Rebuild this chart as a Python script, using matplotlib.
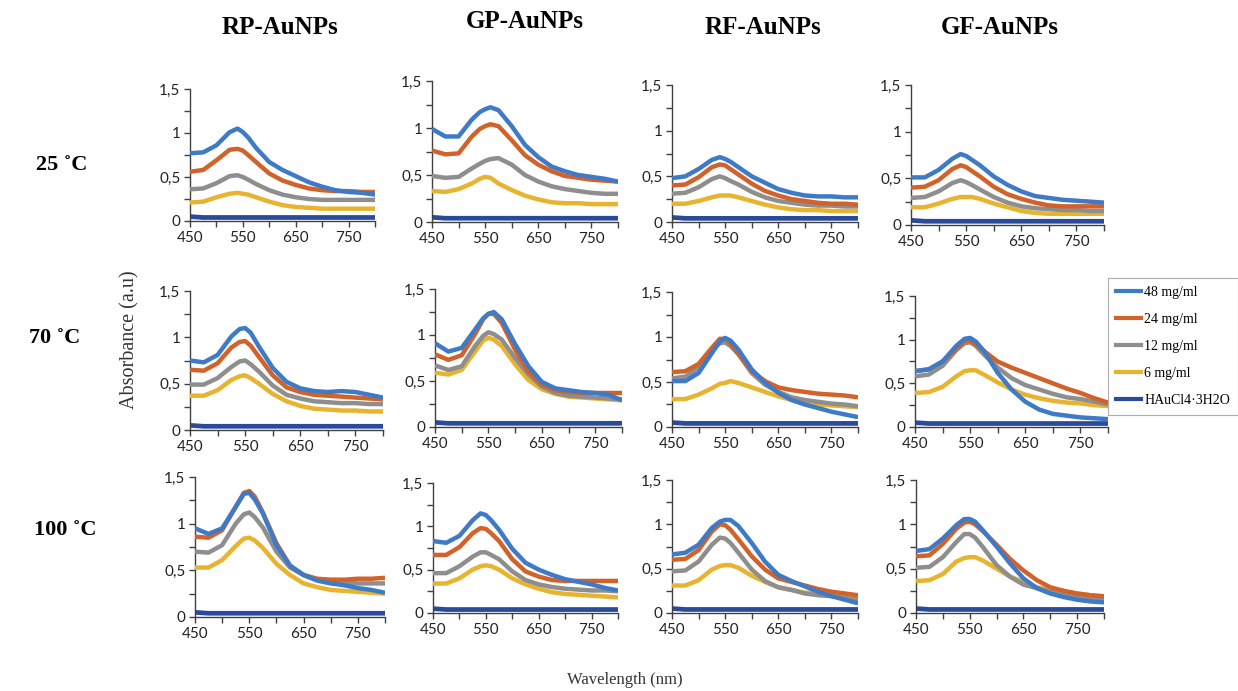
import matplotlib
matplotlib.use("Agg")
import matplotlib.pyplot as plt
from matplotlib.lines import Line2D

# wavelengths sampled (nm)
wl = [450, 475, 500, 525, 540, 550, 560, 575, 600, 625, 650, 675, 700, 725, 750, 775, 800]

series = ["48 mg/ml", "24 mg/ml", "12 mg/ml", "6 mg/ml", "HAuCl4·3H2O"]
colors = ["#3f7ac6", "#d2622a", "#8e8e8e", "#e8b430", "#2a4a9a"]

columns = ["RP-AuNPs", "GP-AuNPs", "RF-AuNPs", "GF-AuNPs"]
temps = ["25 ˚C", "70 ˚C", "100 ˚C"]

hau = [0.05, 0.04, 0.04, 0.04, 0.04, 0.04, 0.04, 0.04, 0.04, 0.04, 0.04, 0.04, 0.04, 0.04, 0.04, 0.04, 0.04]

# 25 C
rp_25 = [
    [0.77, 0.78, 0.86, 1.01, 1.05, 1.01, 0.95, 0.83, 0.67, 0.58, 0.51, 0.44, 0.39, 0.35, 0.33, 0.32, 0.30],
    [0.56, 0.58, 0.69, 0.81, 0.82, 0.80, 0.75, 0.67, 0.54, 0.46, 0.41, 0.37, 0.35, 0.34, 0.34, 0.33, 0.33],
    [0.36, 0.37, 0.43, 0.51, 0.52, 0.50, 0.47, 0.42, 0.35, 0.30, 0.27, 0.25, 0.24, 0.24, 0.24, 0.24, 0.24],
    [0.21, 0.22, 0.27, 0.31, 0.32, 0.31, 0.30, 0.27, 0.22, 0.18, 0.16, 0.15, 0.14, 0.14, 0.14, 0.14, 0.14],
]
gp_25 = [
    [0.99, 0.91, 0.91, 1.09, 1.17, 1.20, 1.22, 1.19, 1.02, 0.82, 0.69, 0.59, 0.54, 0.50, 0.48, 0.46, 0.43],
    [0.76, 0.72, 0.73, 0.91, 0.99, 1.02, 1.04, 1.02, 0.87, 0.71, 0.61, 0.54, 0.49, 0.47, 0.45, 0.44, 0.43],
    [0.49, 0.47, 0.48, 0.57, 0.62, 0.65, 0.67, 0.68, 0.61, 0.50, 0.43, 0.38, 0.35, 0.33, 0.31, 0.30, 0.30],
    [0.33, 0.32, 0.35, 0.41, 0.46, 0.48, 0.47, 0.41, 0.34, 0.28, 0.24, 0.21, 0.20, 0.20, 0.19, 0.19, 0.19],
]
rf_25 = [
    [0.48, 0.50, 0.58, 0.68, 0.71, 0.69, 0.66, 0.60, 0.50, 0.43, 0.36, 0.32, 0.29, 0.28, 0.28, 0.27, 0.27],
    [0.40, 0.41, 0.49, 0.60, 0.63, 0.62, 0.58, 0.52, 0.42, 0.34, 0.29, 0.25, 0.23, 0.21, 0.20, 0.20, 0.19],
    [0.31, 0.32, 0.38, 0.47, 0.50, 0.48, 0.45, 0.41, 0.33, 0.27, 0.23, 0.21, 0.19, 0.18, 0.18, 0.17, 0.17],
    [0.20, 0.20, 0.23, 0.27, 0.29, 0.29, 0.29, 0.27, 0.23, 0.19, 0.16, 0.14, 0.13, 0.13, 0.12, 0.12, 0.12],
]
gf_25 = [
    [0.51, 0.51, 0.59, 0.71, 0.76, 0.74, 0.70, 0.64, 0.52, 0.43, 0.36, 0.31, 0.29, 0.27, 0.26, 0.25, 0.24],
    [0.40, 0.41, 0.48, 0.60, 0.64, 0.62, 0.58, 0.52, 0.41, 0.33, 0.28, 0.24, 0.21, 0.20, 0.20, 0.20, 0.20],
    [0.29, 0.30, 0.36, 0.45, 0.48, 0.46, 0.43, 0.38, 0.30, 0.24, 0.20, 0.18, 0.17, 0.16, 0.16, 0.15, 0.15],
    [0.19, 0.19, 0.23, 0.28, 0.30, 0.30, 0.30, 0.28, 0.23, 0.19, 0.15, 0.13, 0.12, 0.12, 0.12, 0.12, 0.12],
]

# 70 C
rp_70 = [
    [0.75, 0.73, 0.81, 1.01, 1.09, 1.10, 1.05, 0.90, 0.67, 0.52, 0.45, 0.42, 0.41, 0.42, 0.41, 0.38, 0.35],
    [0.65, 0.64, 0.72, 0.89, 0.95, 0.96, 0.91, 0.79, 0.59, 0.46, 0.41, 0.38, 0.37, 0.36, 0.35, 0.34, 0.33],
    [0.49, 0.49, 0.56, 0.68, 0.74, 0.75, 0.71, 0.63, 0.48, 0.38, 0.34, 0.31, 0.30, 0.29, 0.29, 0.28, 0.28],
    [0.37, 0.37, 0.43, 0.54, 0.58, 0.59, 0.56, 0.50, 0.39, 0.31, 0.26, 0.23, 0.22, 0.21, 0.21, 0.20, 0.20],
]
gp_70 = [
    [0.91, 0.82, 0.86, 1.06, 1.18, 1.23, 1.25, 1.17, 0.90, 0.66, 0.49, 0.42, 0.40, 0.38, 0.37, 0.35, 0.29],
    [0.79, 0.73, 0.78, 1.01, 1.17, 1.23, 1.23, 1.13, 0.84, 0.60, 0.46, 0.40, 0.38, 0.37, 0.37, 0.37, 0.37],
    [0.67, 0.62, 0.66, 0.88, 0.99, 1.03, 1.01, 0.95, 0.75, 0.57, 0.44, 0.37, 0.34, 0.33, 0.32, 0.31, 0.30],
    [0.59, 0.57, 0.62, 0.82, 0.94, 0.97, 0.95, 0.88, 0.68, 0.51, 0.41, 0.36, 0.33, 0.32, 0.31, 0.30, 0.29],
]
rf_70 = [
    [0.51, 0.51, 0.60, 0.82, 0.95, 0.99, 0.96, 0.86, 0.64, 0.49, 0.38, 0.30, 0.25, 0.21, 0.17, 0.14, 0.11],
    [0.61, 0.62, 0.70, 0.88, 0.98, 0.98, 0.93, 0.81, 0.62, 0.51, 0.44, 0.41, 0.39, 0.37, 0.36, 0.35, 0.33],
    [0.54, 0.56, 0.66, 0.86, 0.93, 0.94, 0.90, 0.81, 0.60, 0.47, 0.39, 0.33, 0.30, 0.28, 0.26, 0.25, 0.23],
    [0.31, 0.31, 0.36, 0.43, 0.48, 0.49, 0.51, 0.49, 0.44, 0.39, 0.34, 0.30, 0.27, 0.25, 0.24, 0.23, 0.22],
]
gf_70 = [
    [0.64, 0.66, 0.75, 0.93, 1.01, 1.02, 0.98, 0.87, 0.62, 0.43, 0.29, 0.20, 0.15, 0.13, 0.11, 0.10, 0.09],
    [0.64, 0.66, 0.75, 0.90, 0.98, 0.99, 0.95, 0.87, 0.75, 0.68, 0.62, 0.56, 0.50, 0.44, 0.39, 0.33, 0.28],
    [0.58, 0.60, 0.70, 0.88, 0.96, 0.97, 0.93, 0.83, 0.68, 0.56, 0.48, 0.43, 0.38, 0.34, 0.32, 0.29, 0.26],
    [0.39, 0.40, 0.46, 0.58, 0.64, 0.65, 0.65, 0.60, 0.51, 0.43, 0.37, 0.33, 0.30, 0.28, 0.27, 0.25, 0.24],
]

# 100 C
rp_100 = [
    [0.95, 0.89, 0.95, 1.18, 1.32, 1.33, 1.26, 1.11, 0.77, 0.55, 0.45, 0.39, 0.36, 0.34, 0.31, 0.29, 0.26],
    [0.86, 0.85, 0.93, 1.18, 1.33, 1.35, 1.29, 1.12, 0.79, 0.55, 0.45, 0.41, 0.40, 0.40, 0.41, 0.41, 0.42],
    [0.70, 0.69, 0.77, 1.00, 1.10, 1.12, 1.07, 0.96, 0.70, 0.53, 0.45, 0.40, 0.38, 0.37, 0.36, 0.36, 0.36],
    [0.53, 0.53, 0.61, 0.76, 0.84, 0.85, 0.82, 0.74, 0.57, 0.45, 0.36, 0.32, 0.29, 0.28, 0.27, 0.26, 0.25],
]
gp_100 = [
    [0.83, 0.81, 0.89, 1.07, 1.15, 1.13, 1.07, 0.96, 0.74, 0.58, 0.50, 0.44, 0.39, 0.36, 0.33, 0.29, 0.26],
    [0.67, 0.67, 0.76, 0.92, 0.98, 0.97, 0.92, 0.83, 0.62, 0.48, 0.42, 0.38, 0.37, 0.37, 0.37, 0.37, 0.37],
    [0.46, 0.46, 0.54, 0.65, 0.70, 0.70, 0.67, 0.62, 0.48, 0.38, 0.33, 0.30, 0.28, 0.27, 0.26, 0.26, 0.25],
    [0.34, 0.34, 0.40, 0.50, 0.54, 0.55, 0.54, 0.50, 0.40, 0.33, 0.28, 0.24, 0.22, 0.21, 0.20, 0.19, 0.18],
]
rf_100 = [
    [0.66, 0.68, 0.77, 0.96, 1.03, 1.05, 1.05, 0.98, 0.79, 0.58, 0.43, 0.36, 0.30, 0.24, 0.19, 0.15, 0.11],
    [0.60, 0.61, 0.71, 0.92, 1.00, 0.99, 0.94, 0.83, 0.64, 0.49, 0.39, 0.35, 0.31, 0.27, 0.24, 0.22, 0.20],
    [0.47, 0.48, 0.58, 0.77, 0.85, 0.84, 0.79, 0.68, 0.49, 0.36, 0.29, 0.26, 0.22, 0.20, 0.19, 0.17, 0.15],
    [0.31, 0.31, 0.37, 0.49, 0.53, 0.54, 0.54, 0.51, 0.42, 0.35, 0.29, 0.26, 0.23, 0.22, 0.21, 0.19, 0.18],
]
gf_100 = [
    [0.70, 0.72, 0.84, 0.99, 1.06, 1.06, 1.03, 0.93, 0.75, 0.56, 0.39, 0.28, 0.22, 0.18, 0.15, 0.13, 0.12],
    [0.64, 0.65, 0.78, 0.95, 1.02, 1.03, 1.00, 0.92, 0.77, 0.61, 0.48, 0.37, 0.29, 0.25, 0.22, 0.20, 0.19],
    [0.51, 0.52, 0.63, 0.80, 0.89, 0.89, 0.85, 0.74, 0.54, 0.41, 0.32, 0.28, 0.24, 0.21, 0.19, 0.17, 0.15],
    [0.36, 0.37, 0.44, 0.58, 0.62, 0.63, 0.63, 0.59, 0.50, 0.41, 0.35, 0.29, 0.26, 0.24, 0.22, 0.20, 0.18],
]

panels = [
    [rp_25, gp_25, rf_25, gf_25],
    [rp_70, gp_70, rf_70, gf_70],
    [rp_100, gp_100, rf_100, gf_100],
]

# axes boxes in pixels: left, right, top (y=1.5), bottom (y=0)
boxes = [
    [(190, 375, 89, 221), (432, 618, 81, 222), (672, 858, 85, 222), (911, 1104, 85, 225)],
    [(190, 383, 291, 430), (435, 622, 289, 427), (672, 858, 292, 427), (915, 1108, 296, 427)],
    [(195, 385, 477, 617), (433, 618, 483, 613), (672, 858, 480, 613), (916, 1104, 480, 613)],
]

W, H = 1238, 691
fig = plt.figure(figsize=(W / 100, H / 100), dpi=100)

tick_font = "Lato"
serif = "Liberation Serif"

for r in range(3):
    for c in range(4):
        x0, x1, yt, yb = boxes[r][c]
        ax = fig.add_axes([x0 / W, 1 - yb / H, (x1 - x0) / W, (yb - yt) / H])
        for k, vals in enumerate(panels[r][c]):
            ax.plot(wl, vals, color=colors[k], lw=3.2, solid_capstyle="butt", zorder=3 - k * 0.1)
        ax.plot(wl, hau, color=colors[4], lw=3.4, zorder=2)
        ax.set_xlim(450, 800)
        ax.set_ylim(0, 1.5)
        ax.set_xticks(range(450, 801, 50))
        ax.set_xticklabels(["450", "", "550", "", "650", "", "750", ""])
        ax.set_yticks([0, 0.25, 0.5, 0.75, 1.0, 1.25, 1.5])
        ax.set_yticklabels(["0", "", "0,5", "", "1", "", "1,5"])
        for s in ["top", "right"]:
            ax.spines[s].set_visible(False)
        for s in ["left", "bottom"]:
            ax.spines[s].set_color("#404040")
            ax.spines[s].set_linewidth(1)
        ax.tick_params(direction="out", length=4, width=1, color="#404040",
                       labelsize=11, labelcolor="#222222", pad=3)
        for lab in ax.get_xticklabels() + ax.get_yticklabels():
            lab.set_family(tick_font)
        ax.patch.set_alpha(0)

# column titles
title_pos = [(280, 27), (525, 22), (763, 27), (1000, 27)]
for name, (x, y) in zip(columns, title_pos):
    fig.text(x / W, 1 - y / H, name, family=serif, weight="bold", fontsize=18,
             ha="center", va="center")

# row labels
row_pos = [(62, 165), (55, 338), (65, 530)]
for name, (x, y) in zip(temps, row_pos):
    fig.text(x / W, 1 - y / H, name, family=serif, weight="bold", fontsize=16,
             ha="center", va="center")

fig.text(130 / W, 1 - 340 / H, "Absorbance (a.u)", family=serif, fontsize=14.5,
         rotation=90, ha="center", va="center", color="#333333")
fig.text(625 / W, 1 - 680 / H, "Wavelength (nm)", family=serif, fontsize=12,
         ha="center", va="center", color="#333333")

handles = [Line2D([], [], color=colors[k], lw=3) for k in range(5)]
leg = fig.legend(handles, series, loc="upper left",
                 bbox_to_anchor=(1108 / W, 1 - 278 / H), borderaxespad=0,
                 prop={"family": serif, "size": 10}, handlelength=1.8,
                 handletextpad=0.2, labelspacing=1.0, fancybox=False,
                 edgecolor="#999999", borderpad=0.6)
leg.get_frame().set_linewidth(0.8)

fig.savefig("out.png", dpi=100)
